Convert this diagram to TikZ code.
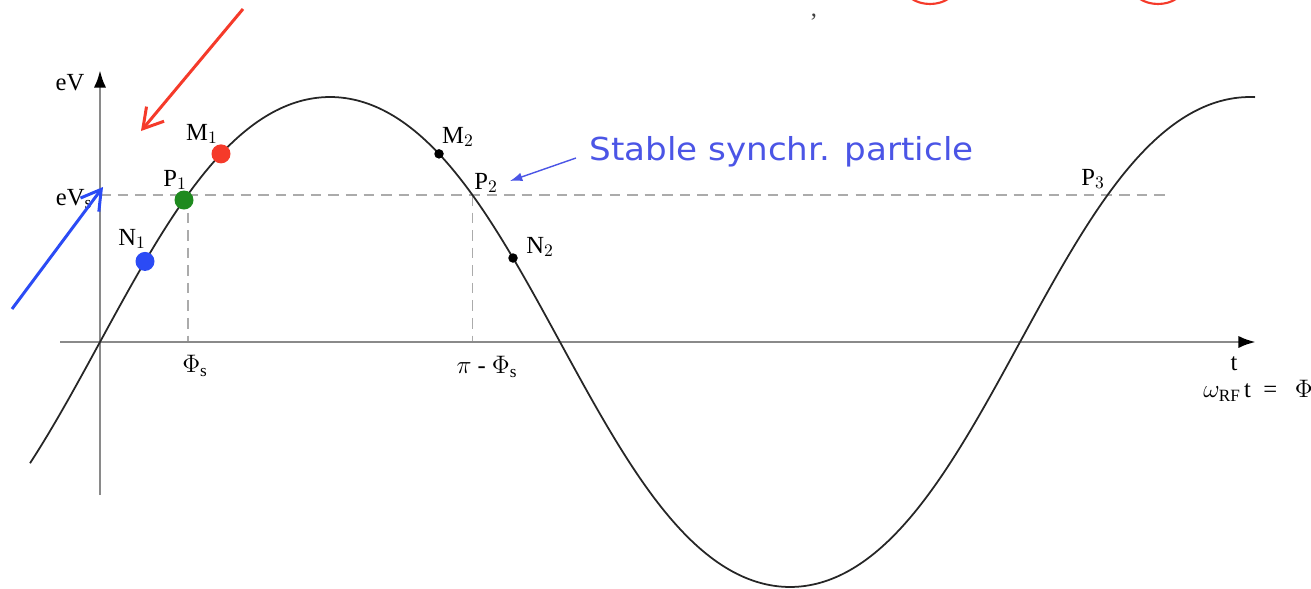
\documentclass[tikz,border=0pt]{standalone}
\usepackage{fontspec}
\setmainfont{Liberation Serif}
\newfontfamily\comicfont{DejaVu Sans}[FakeStretch=1.08]
\usetikzlibrary{arrows.meta}
\definecolor{axisgray}{HTML}{8A8A8A}
\definecolor{dashgray}{HTML}{ABABAB}
\definecolor{myblue}{HTML}{2B4BF5}
\definecolor{textblue}{HTML}{4B55E6}
\definecolor{myred}{HTML}{F53A2A}
\definecolor{mygreen}{HTML}{1E8A1E}
\begin{document}
\begin{tikzpicture}[x=0.02cm,y=-0.02cm,
  declare function={th(\x)=(\x-100)/460*180;
                    f(\x)=342-245*(sin(th(\x))+0.0235*sin(3*th(\x)))/0.9765;},
  axisline/.style={draw=axisgray, line width=1.7pt, -{Latex[length=10pt,width=7pt,color=black]}},
  curve/.style={draw=black!85, line width=1pt},
  guide/.style={draw=dashgray, line width=0.8pt, dash pattern=on 6pt off 4pt},
  bigdot/.style={circle, inner sep=0pt, minimum size=0.38cm},
  smalldot/.style={circle, fill=black, inner sep=0pt, minimum size=0.19cm},
  lbl/.style={font=\fontsize{14}{16}\selectfont, inner sep=0pt},
  bigarrow/.style={line width=1.7pt, -{Straight Barb[length=11pt,width=13pt,line width=1.7pt]}},
]
\useasboundingbox (0,0) rectangle (1311,588);
\clip (0,0) rectangle (1311,588);
\fill[white] (0,0) rectangle (1311,588);

% guides
\coordinate (g0) at (100,195);
\coordinate (g1) at (1168,195);
\coordinate (p1b) at (188,342);
\coordinate (p2b) at (472.5,342);
\coordinate (p1t) at (188,195);
\coordinate (p2t) at (472.5,195);
\draw[guide] (g0) -- (g1);
\draw[guide] (p1t) -- (p1b);
\draw[guide] (p2t) -- (p2b);

% axes
\coordinate (ya0) at (100,495);
\coordinate (ya1) at (100,70);
\coordinate (xa0) at (60,342);
\coordinate (xa1) at (1256,342);
\draw[axisline] (ya0) -- (ya1);
\draw[axisline] (xa0) -- (xa1);

% sine curve
\draw[curve] plot[domain=30:1255, samples=240, smooth] (\x,{f(\x)});

% points
\node[bigdot, fill=myblue] (N1) at (145,{f(145)}) {};
\node[bigdot, fill=mygreen] (P1) at (184,{f(184)}) {};
\node[bigdot, fill=myred] (M1) at (221,{f(221)}) {};
\node[smalldot] (M2) at (439,{f(439)}) {};
\node[smalldot] (N2) at (513,{f(513)}) {};

% labels
\node[lbl] (leV) at (70,83) {eV};
\node[lbl] (leVs) at (74,199) {eV$_{\mathrm{s}}$};
\node[lbl] (lN1) at (132,239) {N$_1$};
\node[lbl] (lP1) at (175,180) {P$_1$};
\node[lbl] (lM1) at (202,134) {M$_1$};
\node[lbl] (lM2) at (458,137) {M$_2$};
\node[lbl] (lP2) at (486,183) {P$_2$};
\node[lbl] (lN2) at (540,247) {N$_2$};
\node[lbl] (lP3) at (1093,179) {P$_3$};
\node[lbl] (lPhi) at (195,366) {$\Phi_{\mathrm{s}}$};
\node[lbl] (lpiPhi) at (487,367) {$\pi$ - $\Phi_{\mathrm{s}}$};
\node[lbl] (lt) at (1234,364) {t};
\node[lbl, anchor=west] (lomega) at (1203,391) {$\omega_{\mathrm{RF}}$\hspace{2pt}t\hspace{7pt}=\hspace{10pt}$\Phi$};

% stable synchr. particle
\node[anchor=west, inner sep=0pt, text=textblue, font=\comicfont\fontsize{18}{20}\selectfont] (stable) at (589,152) {Stable synchr. particle};
\coordinate (sa) at (576,158);
\coordinate (sb) at (510,181);
\draw[draw=textblue, line width=0.8pt, -{Latex[length=7pt,width=5pt]}] (sa) -- (sb);

% red & blue arrows
\coordinate (ra0) at (243,9);
\coordinate (ra1) at (141,131);
\draw[bigarrow, draw=myred] (ra0) -- (ra1);
\coordinate (ba0) at (12,309);
\coordinate (ba1) at (103,187);
\draw[bigarrow, draw=myblue] (ba0) -- (ba1);

% partial red circles at top
\draw[myred, line width=1.2pt] (930,-14) ellipse [x radius=26, y radius=18];
\draw[myred, line width=1.2pt] (1158,-14) ellipse [x radius=26, y radius=18];
\node[inner sep=1pt, text=black!75, font=\fontsize{14}{14}\selectfont] (comma) at (814,17) {,};
\end{tikzpicture}
\end{document}
